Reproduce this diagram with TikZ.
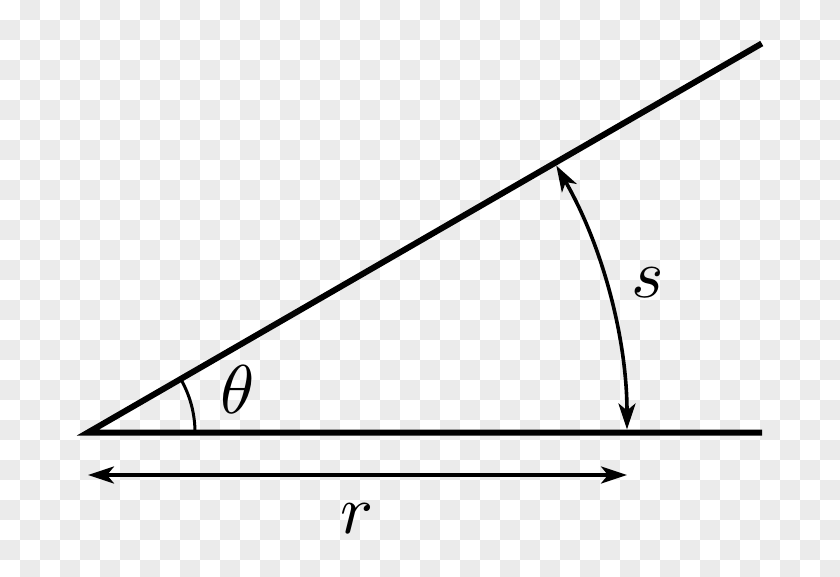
\documentclass[tikz,border=0pt]{standalone}
\usetikzlibrary{arrows.meta,calc}
\definecolor{checkgrey}{RGB}{235,235,235}
\begin{document}
\begin{tikzpicture}[x=1pt,y=1pt,
  mainline/.style={line width=6pt,line cap=butt},
  dimarrow/.style={line width=3.6pt,{Stealth[length=26pt,width=17pt,inset=7pt]}-{Stealth[length=26pt,width=17pt,inset=7pt]}},
  anglearc/.style={line width=3pt},
  lbl/.style={inner sep=0pt,scale=6.9}]
\useasboundingbox (0,0) rectangle (840,576);
\fill[white] (0,0) rectangle (840,576);
% checkerboard backdrop (top-left square white)
\foreach \i in {0,...,41}{
  \foreach \j in {0,...,28}{
    \pgfmathtruncatemacro{\cpar}{mod(\i+\j,2)}
    \ifnum\cpar=1
      \fill[checkgrey] (20*\i,576-20*\j) rectangle (20*\i+20,576-20*\j-20);
    \fi
  }
}
\coordinate (O) at (88,143.5);
\coordinate (A) at (762,143.5);
\coordinate (B) at ($(O)+(30:778)$);
\coordinate (S0) at ($(O)+(0:539)$);
\coordinate (T0) at ($(O)+(0:107)$);
\coordinate (R0) at (88,101);
\coordinate (R1) at (627,101);
% main lines
\draw[mainline] (A) -- (O) -- (B);
% angle arc theta
\draw[anglearc] (T0) arc[start angle=0,end angle=30,radius=107];
% arc s
\draw[dimarrow,shorten <=3pt,shorten >=3pt] (S0) arc[start angle=0,end angle=30,radius=539];
% r arrow
\draw[dimarrow] (R0) -- (R1);
% labels
\node[lbl] (theta) at (238,186) {$\theta$};
\node[lbl] (s) at (648,293) {$s$};
\node[lbl] (r) at (357,57) {$r$};
\end{tikzpicture}
\end{document}
